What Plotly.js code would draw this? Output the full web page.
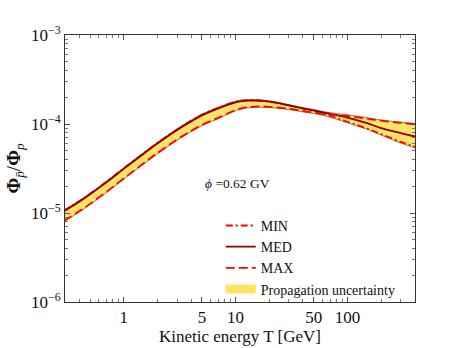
<!DOCTYPE html>
<html>
<head>
<meta charset="utf-8">
<script src="https://cdn.plot.ly/plotly-3.0.1.min.js"></script>
<style>html,body{margin:0;padding:0;background:#fff;}#chart{width:461px;height:348px;}</style>
</head>
<body>
<div id="chart"></div>
<script>
// Kinetic energy T [GeV]
const energy = [0.29, 0.4, 0.5, 0.7, 1, 1.5, 2, 3, 4, 5, 7, 10, 12, 15, 20, 30, 40, 50, 70, 100, 150, 200, 300, 410];
// antiproton / proton ratio for the three propagation models
const medRatio = [1.04e-5, 1.336e-5, 1.62e-5, 2.21e-5, 3.13e-5, 4.61e-5, 6.03e-5, 8.57e-5, 1.07e-4, 1.25e-4, 1.50e-4, 1.75e-4, 1.82e-4, 1.83e-4, 1.78e-4, 1.62e-4, 1.5e-4, 1.42e-4, 1.3e-4, 1.18e-4, 1.02e-4, 9.0e-5, 7.9e-5, 7.2e-5];
const minRatio = [1.056e-5, 1.356e-5, 1.644e-5, 2.243e-5, 3.177e-5, 4.68e-5, 6.12e-5, 8.7e-5, 1.086e-4, 1.269e-4, 1.523e-4, 1.776e-4, 1.847e-4, 1.857e-4, 1.79e-4, 1.62e-4, 1.49e-4, 1.4e-4, 1.23e-4, 1.06e-4, 8.9e-5, 7.7e-5, 6.3e-5, 5.5e-5];
const maxRatio = [8.13e-6, 1.044e-5, 1.266e-5, 1.727e-5, 2.445e-5, 3.6e-5, 4.71e-5, 6.7e-5, 8.36e-5, 9.77e-5, 1.172e-4, 1.434e-4, 1.529e-4, 1.571e-4, 1.561e-4, 1.48e-4, 1.4e-4, 1.34e-4, 1.27e-4, 1.23e-4, 1.15e-4, 1.09e-4, 1.03e-4, 9.9e-5];
// propagation uncertainty band edges
const bandUpper = [1.072e-5, 1.376e-5, 1.669e-5, 2.277e-5, 3.225e-5, 4.75e-5, 6.21e-5, 8.83e-5, 1.102e-4, 1.288e-4, 1.546e-4, 1.803e-4, 1.875e-4, 1.885e-4, 1.817e-4, 1.65e-4, 1.53e-4, 1.45e-4, 1.34e-4, 1.27e-4, 1.18e-4, 1.11e-4, 1.05e-4, 1.01e-4];
const bandLower = [7.97e-6, 1.024e-5, 1.241e-5, 1.693e-5, 2.397e-5, 3.53e-5, 4.62e-5, 6.57e-5, 8.2e-5, 9.58e-5, 1.149e-4, 1.406e-4, 1.499e-4, 1.54e-4, 1.53e-4, 1.45e-4, 1.37e-4, 1.31e-4, 1.19e-4, 1.03e-4, 8.7e-5, 7.5e-5, 6.1e-5, 5.35e-5];

const xTickVals = [1, 5, 10, 50, 100];
const xTickText = ['1', '5', '10', '50', '100'];
const xMinorVals = [0.4, 0.5, 0.6, 0.7, 0.8, 0.9, 2, 3, 4, 6, 7, 8, 9, 20, 30, 40, 60, 70, 80, 90, 200, 300, 400];
const yTickVals = [1e-6, 1e-5, 1e-4, 1e-3];
const yTickText = ['10<sup>−6</sup>', '10<sup>−5</sup>', '10<sup>−4</sup>', '10<sup>−3</sup>'];
const yMinorVals = [2e-6, 3e-6, 4e-6, 5e-6, 6e-6, 7e-6, 8e-6, 9e-6, 2e-5, 3e-5, 4e-5, 5e-5, 6e-5, 7e-5, 8e-5, 9e-5, 2e-4, 3e-4, 4e-4, 5e-4, 6e-4, 7e-4, 8e-4, 9e-4];

const serif = 'Liberation Serif, DejaVu Serif, serif';
const bandFill = '#ffe366';
const bandEdge = 'rgba(110,110,70,0.8)';

const traces = [
  {x: energy, y: bandLower, mode: 'lines', line: {color: bandEdge, width: 1, shape: 'spline'}, showlegend: false, hoverinfo: 'skip'},
  {x: energy, y: bandUpper, mode: 'lines', fill: 'tonexty', fillcolor: bandFill, line: {color: bandEdge, width: 1, shape: 'spline'}, showlegend: false, hoverinfo: 'skip'},
  {x: energy, y: minRatio, mode: 'lines', name: 'MIN', line: {color: '#ff0000', width: 1.8, dash: '7px,3px,2px,3px', shape: 'spline'}},
  {x: energy, y: medRatio, mode: 'lines', name: 'MED', line: {color: '#8b0000', width: 1.8, shape: 'spline'}},
  {x: energy, y: maxRatio, mode: 'lines', name: 'MAX', line: {color: '#ff0000', width: 1.8, dash: '9px,4px', shape: 'spline'}},
  {x: [null], y: [null], mode: 'lines', name: 'Propagation uncertainty', line: {color: bandFill, width: 9}}
];

function axis(extra) {
  return Object.assign({
    type: 'log', showline: true, linecolor: '#333', linewidth: 1, mirror: 'allticks',
    ticks: 'inside', ticklen: 5, tickcolor: '#555', showgrid: false, zeroline: false,
    tickfont: {family: serif, size: 17, color: '#111'}
  }, extra);
}

const layout = {
  width: 461, height: 348,
  margin: {l: 64.5, r: 46, t: 34.5, b: 46},
  paper_bgcolor: '#fff', plot_bgcolor: '#fff',
  font: {family: serif, color: '#111'},
  xaxis: axis({
    range: [Math.log10(0.2985), Math.log10(402)],
    tickmode: 'array', tickvals: xTickVals, ticktext: xTickText,
    minor: {tickmode: 'array', tickvals: xMinorVals, ticks: 'inside', ticklen: 3, tickcolor: '#777', showgrid: false},
    title: {text: 'Kinetic energy T [GeV]', font: {family: serif, size: 17, color: '#111'}, standoff: 3}
  }),
  yaxis: axis({
    range: [-6, -3],
    tickmode: 'array', tickvals: yTickVals, ticktext: yTickText,
    minor: {tickmode: 'array', tickvals: yMinorVals, ticks: 'inside', ticklen: 3, tickcolor: '#777', showgrid: false},
    title: {text: '<b>Φ</b><sub><i>p̄</i></sub>/<b>Φ</b><sub><i>p</i></sub>', font: {family: serif, size: 19, color: '#111'}, standoff: 5}
  }),
  legend: {
    x: 0.445, y: 0.345, xanchor: 'left', yanchor: 'top', traceorder: 'normal',
    bgcolor: 'rgba(0,0,0,0)', borderwidth: 0,
    font: {family: serif, size: 14, color: '#111'},
    itemwidth: 30, tracegroupgap: 0
  },
  annotations: [{
    xref: 'x', yref: 'y', x: Math.log10(5.15), y: Math.log10(2.16e-5),
    xanchor: 'left', yanchor: 'middle', showarrow: false,
    text: '<i>ϕ</i> =0.62 GV', font: {family: serif, size: 13.5, color: '#111'}
  }]
};

Plotly.newPlot('chart', traces, layout, {displayModeBar: false, staticPlot: true});
</script>
</body>
</html>
